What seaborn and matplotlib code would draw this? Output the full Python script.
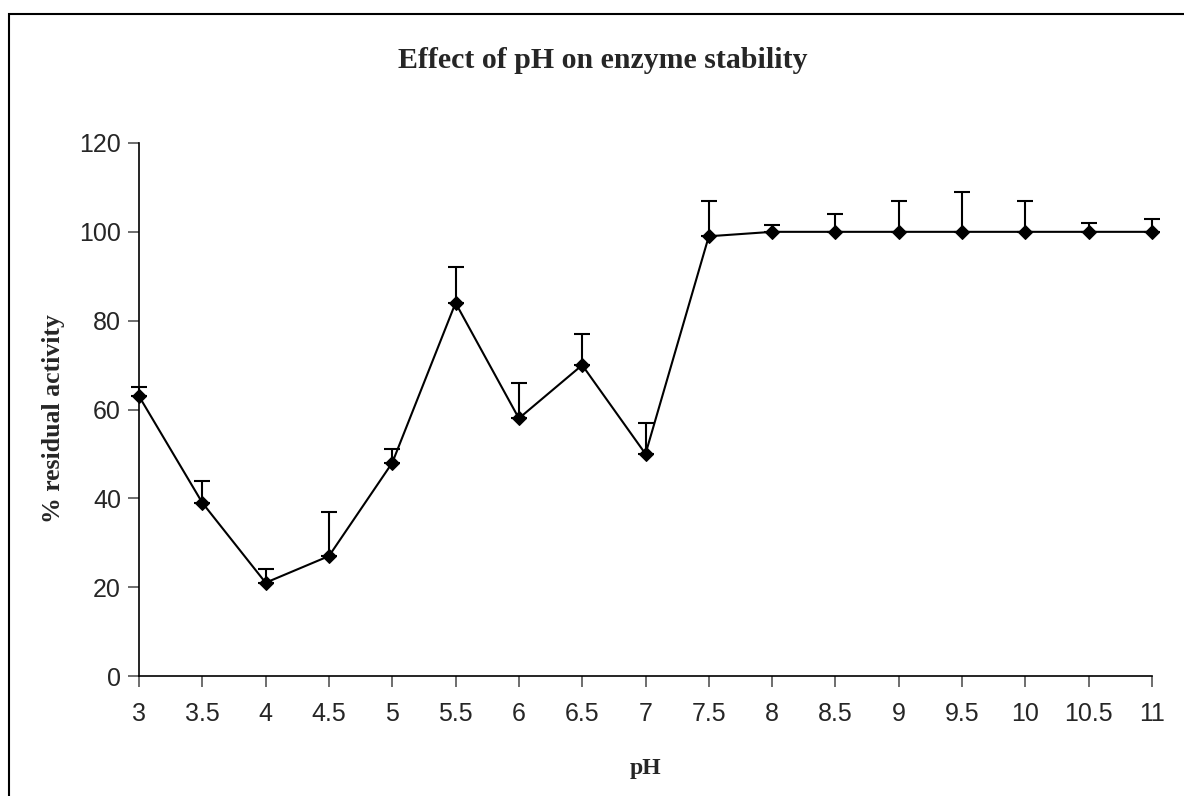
import matplotlib
matplotlib.use("Agg")
import matplotlib.pyplot as plt
import numpy as np
import pandas as pd
import seaborn as sns
from matplotlib.patches import Rectangle

# values
ph = [3, 3.5, 4, 4.5, 5, 5.5, 6, 6.5, 7, 7.5, 8, 8.5, 9, 9.5, 10, 10.5, 11]
activity = [63, 39, 21, 27, 48, 84, 58, 70, 50, 99, 100, 100, 100, 100, 100, 100, 100]
err_upper = [2, 5, 3, 10, 3, 8, 8, 7, 7, 8, 1.5, 4, 7, 9, 7, 2, 3]
x_ticks = ph
y_ticks = [0, 20, 40, 60, 80, 100, 120]

df = pd.DataFrame({"pH": ph, "activity": activity, "err": err_upper})

sns.set_theme(style="ticks")
plt.rcParams["font.family"] = ["Liberation Sans", "DejaVu Sans"]

fig = plt.figure(figsize=(11.84, 7.96), dpi=100)
ax = fig.add_axes([139 / 1184, 1 - 676 / 796, (1152 - 139) / 1184, (676 - 143) / 796])

# upper error bars only
eb = ax.errorbar(df["pH"], df["activity"], yerr=[np.zeros(len(df)), df["err"]],
                 fmt="none", ecolor="black", elinewidth=1.5, capsize=5.5, capthick=1.5,
                 zorder=2)
for art in eb.lines[1] + eb.lines[2]:
    art.set_clip_on(False)
sns.lineplot(data=df, x="pH", y="activity", ax=ax, color="black", linewidth=1.5,
             marker="D", markersize=7, markeredgecolor="black", markerfacecolor="black",
             zorder=3, clip_on=False)

ax.set_xlim(3, 11)
ax.set_ylim(0, 120)
ax.set_xticks(x_ticks)
ax.set_xticklabels([f"{v:g}" for v in x_ticks])
ax.set_yticks(y_ticks)
ax.tick_params(axis="both", labelsize=18, length=8, width=1.2, color="#555555",
               direction="out", pad=11)
ax.tick_params(axis="y", pad=5)

sns.despine(ax=ax)
for side in ["left", "bottom"]:
    ax.spines[side].set_color("black")
    ax.spines[side].set_linewidth(1.2)

serif = ["Liberation Serif", "DejaVu Serif"]
ax.set_xlabel("pH", fontsize=17, fontweight="bold", family=serif)
ax.xaxis.set_label_coords((645 - 139) / 1013, -(758 - 676) / 533)
ax.set_ylabel("% residual activity", fontsize=18.5, fontweight="bold", family=serif)
ax.yaxis.set_label_coords(-(139 - 65) / 1013, (676 - 419) / 533)
fig.text(603 / 1184, 1 - 60 / 796, "Effect of pH on enzyme stability",
         ha="center", va="center", fontsize=21.5, fontweight="bold", family=serif)

# outer frame around the chart area
fig.patches.append(Rectangle((8.5 / 1184, -0.1), 1.2, 1 - 13.5 / 796 + 0.1,
                             transform=fig.transFigure, fill=False,
                             edgecolor="black", linewidth=1.5))

fig.savefig("out.png", dpi=100, facecolor="white")
